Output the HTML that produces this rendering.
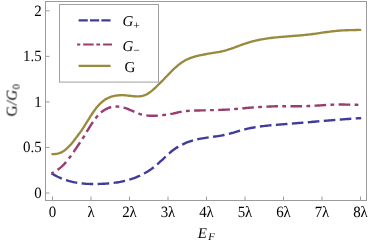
<!DOCTYPE html>
<html><head><meta charset="utf-8"><style>
html,body{margin:0;padding:0;background:#fff;}
body{width:390px;height:244px;overflow:hidden;}
svg{display:block;}
text{font-family:"Liberation Serif",serif;fill:#000;text-rendering:geometricPrecision;}
</style></head><body>
<svg width="390" height="244" viewBox="0 0 390 244">
<rect width="390" height="244" fill="#fff"/>
<g fill="none" stroke-linejoin="round">
<path d="M51.5 173.36 L53.1 174.29 L54.6 175.17 L56.2 175.99 L57.7 176.76 L59.3 177.49 L60.8 178.16 L62.4 178.80 L64.0 179.38 L65.5 179.93 L67.1 180.43 L68.6 180.89 L70.2 181.32 L71.7 181.70 L73.3 182.06 L74.8 182.37 L76.4 182.66 L78.0 182.91 L79.5 183.13 L81.1 183.32 L82.6 183.48 L84.2 183.62 L85.7 183.74 L87.3 183.83 L88.9 183.90 L90.4 183.95 L92.0 183.98 L93.5 183.99 L95.1 183.98 L96.6 183.96 L98.2 183.93 L99.7 183.89 L101.3 183.83 L102.9 183.76 L104.4 183.68 L106.0 183.59 L107.5 183.48 L109.1 183.36 L110.6 183.22 L112.2 183.05 L113.8 182.87 L115.3 182.67 L116.9 182.44 L118.4 182.20 L120.0 181.92 L121.5 181.62 L123.1 181.29 L124.6 180.94 L126.2 180.55 L127.8 180.13 L129.3 179.68 L130.9 179.20 L132.4 178.68 L134.0 178.12 L135.5 177.53 L137.1 176.90 L138.7 176.23 L140.2 175.51 L141.8 174.75 L143.3 173.94 L144.9 173.09 L146.4 172.18 L148.0 171.23 L149.5 170.22 L151.1 169.15 L152.7 168.02 L154.2 166.84 L155.8 165.59 L157.3 164.28 L158.9 162.91 L160.4 161.48 L162.0 160.01 L163.6 158.52 L165.1 157.04 L166.7 155.58 L168.2 154.16 L169.8 152.80 L171.3 151.51 L172.9 150.31 L174.4 149.18 L176.0 148.12 L177.6 147.13 L179.1 146.20 L180.7 145.34 L182.2 144.54 L183.8 143.80 L185.3 143.12 L186.9 142.48 L188.5 141.89 L190.0 141.35 L191.6 140.86 L193.1 140.40 L194.7 139.98 L196.2 139.60 L197.8 139.25 L199.3 138.92 L200.9 138.62 L202.5 138.35 L204.0 138.09 L205.6 137.85 L207.1 137.62 L208.7 137.40 L210.2 137.19 L211.8 136.98 L213.4 136.76 L214.9 136.55 L216.5 136.32 L218.0 136.09 L219.6 135.83 L221.1 135.57 L222.7 135.28 L224.2 134.96 L225.8 134.62 L227.4 134.25 L228.9 133.85 L230.5 133.44 L232.0 133.00 L233.6 132.56 L235.1 132.10 L236.7 131.65 L238.3 131.19 L239.8 130.74 L241.4 130.30 L242.9 129.87 L244.5 129.45 L246.0 129.07 L247.6 128.70 L249.1 128.36 L250.7 128.03 L252.3 127.73 L253.8 127.45 L255.4 127.18 L256.9 126.93 L258.5 126.70 L260.0 126.48 L261.6 126.28 L263.2 126.09 L264.7 125.91 L266.3 125.74 L267.8 125.58 L269.4 125.43 L270.9 125.29 L272.5 125.15 L274.0 125.02 L275.6 124.90 L277.2 124.77 L278.7 124.65 L280.3 124.53 L281.8 124.41 L283.4 124.29 L284.9 124.17 L286.5 124.05 L288.1 123.92 L289.6 123.80 L291.2 123.67 L292.7 123.54 L294.3 123.41 L295.8 123.28 L297.4 123.15 L298.9 123.02 L300.5 122.88 L302.1 122.75 L303.6 122.62 L305.2 122.48 L306.7 122.35 L308.3 122.21 L309.8 122.08 L311.4 121.94 L313.0 121.81 L314.5 121.68 L316.1 121.54 L317.6 121.41 L319.2 121.27 L320.7 121.14 L322.3 121.01 L323.8 120.88 L325.4 120.74 L327.0 120.61 L328.5 120.48 L330.1 120.36 L331.6 120.23 L333.2 120.10 L334.7 119.98 L336.3 119.85 L337.9 119.73 L339.4 119.61 L341.0 119.49 L342.5 119.38 L344.1 119.26 L345.6 119.15 L347.2 119.04 L348.7 118.93 L350.3 118.82 L351.9 118.71 L353.4 118.61 L355.0 118.51 L356.5 118.41 L358.1 118.32 L359.6 118.23 L361.2 118.14" stroke="#3f3d99" stroke-width="2.4" stroke-dasharray="11.6 4.42" stroke-dashoffset="0"/>
<path d="M51.5 173.59 L53.1 172.61 L54.6 171.65 L56.2 170.68 L57.7 169.66 L59.3 168.56 L60.8 167.33 L62.4 165.95 L64.0 164.39 L65.5 162.66 L67.1 160.81 L68.6 158.86 L70.2 156.86 L71.7 154.78 L73.3 152.57 L74.8 150.21 L76.4 147.81 L78.0 145.48 L79.5 143.27 L81.1 141.05 L82.6 138.67 L84.2 136.09 L85.7 133.43 L87.3 130.80 L88.9 128.26 L90.4 125.81 L92.0 123.45 L93.5 121.19 L95.1 119.05 L96.6 117.07 L98.2 115.26 L99.7 113.65 L101.3 112.24 L102.9 111.02 L104.4 109.97 L106.0 109.08 L107.5 108.34 L109.1 107.74 L110.6 107.27 L112.2 106.93 L113.8 106.71 L115.3 106.59 L116.9 106.57 L118.4 106.66 L120.0 106.83 L121.5 107.10 L123.1 107.46 L124.6 107.89 L126.2 108.40 L127.8 108.98 L129.3 109.60 L130.9 110.27 L132.4 110.96 L134.0 111.66 L135.5 112.33 L137.1 112.95 L138.7 113.53 L140.2 114.06 L141.8 114.52 L143.3 114.89 L144.9 115.15 L146.4 115.37 L148.0 115.61 L149.5 115.73 L151.1 115.76 L152.7 115.75 L154.2 115.74 L155.8 115.72 L157.3 115.67 L158.9 115.45 L160.4 115.27 L162.0 115.12 L163.6 114.97 L165.1 114.82 L166.7 114.67 L168.2 114.47 L169.8 114.23 L171.3 113.93 L172.9 113.60 L174.4 113.23 L176.0 112.85 L177.6 112.48 L179.1 112.13 L180.7 111.82 L182.2 111.55 L183.8 111.32 L185.3 111.13 L186.9 110.98 L188.5 110.86 L190.0 110.76 L191.6 110.68 L193.1 110.61 L194.7 110.56 L196.2 110.52 L197.8 110.48 L199.3 110.44 L200.9 110.41 L202.5 110.37 L204.0 110.33 L205.6 110.29 L207.1 110.25 L208.7 110.22 L210.2 110.17 L211.8 110.13 L213.4 110.09 L214.9 110.04 L216.5 110.00 L218.0 109.95 L219.6 109.89 L221.1 109.84 L222.7 109.78 L224.2 109.72 L225.8 109.65 L227.4 109.58 L228.9 109.49 L230.5 109.40 L232.0 109.29 L233.6 109.17 L235.1 109.05 L236.7 108.91 L238.3 108.77 L239.8 108.62 L241.4 108.48 L242.9 108.33 L244.5 108.19 L246.0 108.05 L247.6 107.92 L249.1 107.78 L250.7 107.66 L252.3 107.54 L253.8 107.42 L255.4 107.30 L256.9 107.20 L258.5 107.09 L260.0 106.99 L261.6 106.90 L263.2 106.82 L264.7 106.73 L266.3 106.66 L267.8 106.59 L269.4 106.52 L270.9 106.46 L272.5 106.41 L274.0 106.36 L275.6 106.32 L277.2 106.28 L278.7 106.25 L280.3 106.22 L281.8 106.20 L283.4 106.19 L284.9 106.18 L286.5 106.18 L288.1 106.18 L289.6 106.19 L291.2 106.19 L292.7 106.20 L294.3 106.20 L295.8 106.21 L297.4 106.21 L298.9 106.21 L300.5 106.20 L302.1 106.18 L303.6 106.16 L305.2 106.13 L306.7 106.09 L308.3 106.04 L309.8 105.98 L311.4 105.91 L313.0 105.83 L314.5 105.74 L316.1 105.65 L317.6 105.56 L319.2 105.46 L320.7 105.36 L322.3 105.26 L323.8 105.16 L325.4 105.07 L327.0 104.98 L328.5 104.89 L330.1 104.81 L331.6 104.73 L333.2 104.66 L334.7 104.61 L336.3 104.56 L337.9 104.53 L339.4 104.51 L341.0 104.50 L342.5 104.52 L344.1 104.54 L345.6 104.58 L347.2 104.62 L348.7 104.67 L350.3 104.72 L351.9 104.75 L353.4 104.77 L355.0 104.80 L356.5 104.82 L358.1 104.83 L359.6 104.83 L361.2 104.83" stroke="#993d71" stroke-width="2.4" stroke-dasharray="11.65 4.3 3.8 4.37" stroke-dashoffset="17.0"/>
<path d="M51.5 154.20 L53.1 154.12 L54.6 154.01 L56.2 153.84 L57.7 153.57 L59.3 153.17 L60.8 152.61 L62.4 151.83 L64.0 150.83 L65.5 149.63 L67.1 148.25 L68.6 146.75 L70.2 145.15 L71.7 143.43 L73.3 141.55 L74.8 139.49 L76.4 137.34 L78.0 135.22 L79.5 133.20 L81.1 131.15 L82.6 128.90 L84.2 126.43 L85.7 123.86 L87.3 121.29 L88.9 118.78 L90.4 116.36 L92.0 114.00 L93.5 111.74 L95.1 109.58 L96.6 107.57 L98.2 105.71 L99.7 104.04 L101.3 102.56 L102.9 101.25 L104.4 100.11 L106.0 99.12 L107.5 98.27 L109.1 97.55 L110.6 96.94 L112.2 96.44 L113.8 96.03 L115.3 95.71 L116.9 95.47 L118.4 95.30 L120.0 95.21 L121.5 95.17 L123.1 95.20 L124.6 95.28 L126.2 95.40 L127.8 95.56 L129.3 95.74 L130.9 95.92 L132.4 96.09 L134.0 96.23 L135.5 96.33 L137.1 96.38 L138.7 96.36 L140.2 96.24 L141.8 96.01 L143.3 95.65 L144.9 95.14 L146.4 94.46 L148.0 93.60 L149.5 92.57 L151.1 91.39 L152.7 90.10 L154.2 88.71 L155.8 87.26 L157.3 85.76 L158.9 84.22 L160.4 82.66 L162.0 81.08 L163.6 79.50 L165.1 77.90 L166.7 76.29 L168.2 74.68 L169.8 73.08 L171.3 71.50 L172.9 69.96 L174.4 68.46 L176.0 67.03 L177.6 65.67 L179.1 64.40 L180.7 63.22 L182.2 62.16 L183.8 61.19 L185.3 60.31 L186.9 59.53 L188.5 58.82 L190.0 58.18 L191.6 57.60 L193.1 57.09 L194.7 56.62 L196.2 56.19 L197.8 55.80 L199.3 55.44 L200.9 55.11 L202.5 54.79 L204.0 54.50 L205.6 54.22 L207.1 53.96 L208.7 53.70 L210.2 53.45 L211.8 53.19 L213.4 52.94 L214.9 52.68 L216.5 52.40 L218.0 52.12 L219.6 51.82 L221.1 51.49 L222.7 51.15 L224.2 50.77 L225.8 50.37 L227.4 49.92 L228.9 49.45 L230.5 48.93 L232.0 48.39 L233.6 47.83 L235.1 47.25 L236.7 46.66 L238.3 46.07 L239.8 45.48 L241.4 44.90 L242.9 44.33 L244.5 43.78 L246.0 43.26 L247.6 42.77 L249.1 42.30 L250.7 41.85 L252.3 41.43 L253.8 41.04 L255.4 40.67 L256.9 40.32 L258.5 39.99 L260.0 39.68 L261.6 39.39 L263.2 39.11 L264.7 38.86 L266.3 38.62 L267.8 38.39 L269.4 38.18 L270.9 37.98 L272.5 37.79 L274.0 37.62 L275.6 37.45 L277.2 37.30 L278.7 37.15 L280.3 37.01 L281.8 36.87 L283.4 36.74 L284.9 36.62 L286.5 36.50 L288.1 36.38 L289.6 36.26 L291.2 36.14 L292.7 36.02 L294.3 35.90 L295.8 35.78 L297.4 35.65 L298.9 35.52 L300.5 35.39 L302.1 35.24 L303.6 35.09 L305.2 34.94 L306.7 34.77 L308.3 34.59 L309.8 34.40 L311.4 34.21 L313.0 34.00 L314.5 33.79 L316.1 33.57 L317.6 33.35 L319.2 33.13 L320.7 32.90 L322.3 32.68 L323.8 32.46 L325.4 32.24 L327.0 32.02 L328.5 31.82 L330.1 31.61 L331.6 31.42 L333.2 31.24 L334.7 31.07 L336.3 30.91 L337.9 30.77 L339.4 30.64 L341.0 30.53 L342.5 30.44 L344.1 30.36 L345.6 30.29 L347.2 30.23 L348.7 30.19 L350.3 30.14 L351.9 30.11 L353.4 30.07 L355.0 30.03 L356.5 30.00 L358.1 29.95 L359.6 29.90 L361.2 29.84" stroke="#998b3d" stroke-width="2.35"/>
</g>
<g stroke="#9b9b9b" stroke-width="1" fill="none">
<rect x="45.5" y="1.5" width="321.0" height="199.0"/>
<line x1="52.50" y1="200.5" x2="52.50" y2="196.5"/><line x1="91.00" y1="200.5" x2="91.00" y2="196.5"/><line x1="129.50" y1="200.5" x2="129.50" y2="196.5"/><line x1="168.00" y1="200.5" x2="168.00" y2="196.5"/><line x1="206.50" y1="200.5" x2="206.50" y2="196.5"/><line x1="245.00" y1="200.5" x2="245.00" y2="196.5"/><line x1="283.50" y1="200.5" x2="283.50" y2="196.5"/><line x1="322.00" y1="200.5" x2="322.00" y2="196.5"/><line x1="360.50" y1="200.5" x2="360.50" y2="196.5"/>
<line x1="45.5" y1="193.00" x2="49.5" y2="193.00"/><line x1="45.5" y1="147.45" x2="49.5" y2="147.45"/><line x1="45.5" y1="101.90" x2="49.5" y2="101.90"/><line x1="45.5" y1="56.35" x2="49.5" y2="56.35"/><line x1="45.5" y1="10.80" x2="49.5" y2="10.80"/>
</g>
<g style="filter:grayscale(1)">
<g font-size="15.7px"><text transform="translate(52.50,216.6) scale(0.95,1)" text-anchor="middle">0</text><text transform="translate(91.00,216.6) scale(0.95,1)" text-anchor="middle">λ</text><text transform="translate(129.50,216.6) scale(0.95,1)" text-anchor="middle">2λ</text><text transform="translate(168.00,216.6) scale(0.95,1)" text-anchor="middle">3λ</text><text transform="translate(206.50,216.6) scale(0.95,1)" text-anchor="middle">4λ</text><text transform="translate(245.00,216.6) scale(0.95,1)" text-anchor="middle">5λ</text><text transform="translate(283.50,216.6) scale(0.95,1)" text-anchor="middle">6λ</text><text transform="translate(322.00,216.6) scale(0.95,1)" text-anchor="middle">7λ</text><text transform="translate(360.50,216.6) scale(0.95,1)" text-anchor="middle">8λ</text><text transform="translate(41.7,197.90) scale(0.95,1)" text-anchor="end">0</text><text transform="translate(41.7,152.35) scale(0.95,1)" text-anchor="end">0.5</text><text transform="translate(41.7,106.80) scale(0.95,1)" text-anchor="end">1</text><text transform="translate(41.7,61.25) scale(0.95,1)" text-anchor="end">1.5</text><text transform="translate(41.7,15.70) scale(0.95,1)" text-anchor="end">2</text></g>
</g>
<rect x="59.5" y="4.5" width="99" height="77.6" fill="#fff" stroke="#a0a0a0" stroke-width="1"/>
<g fill="none" stroke-width="2.15">
<line x1="78.6" y1="20.4" x2="110.6" y2="20.4" stroke="#3f3d99" stroke-dasharray="9.2 2.2"/>
<line x1="77.05" y1="44.5" x2="112" y2="44.5" stroke="#993d71" stroke-dasharray="3.2 2.95 10.5 2.6 3.8 3 8.9 100"/>
<line x1="78.6" y1="65.9" x2="110.6" y2="65.9" stroke="#998b3d"/>
</g>
<g style="filter:grayscale(1)">
<g font-size="15px">
<text x="122.5" y="25.5" font-style="italic">G<tspan font-size="11.5px" font-style="normal" dy="3">+</tspan></text>
<text x="122.5" y="50.5" font-style="italic">G<tspan font-size="11.5px" font-style="normal" dy="3">−</tspan></text>
<text x="124.6" y="71.6">G</text>
</g>
<text font-size="15px" x="197.7" y="237.5" font-style="italic">E<tspan font-size="10.5px" dx="1.3" dy="2.2">F</tspan></text>
<text font-size="15px" transform="translate(16.6,116.4) rotate(-90)">G<tspan font-style="italic" dx="0.4">/</tspan><tspan font-style="italic" dx="0.4">G</tspan><tspan font-size="10.5px" dy="3" dx="0.3">0</tspan></text>
</g>
</svg>
</body></html>
